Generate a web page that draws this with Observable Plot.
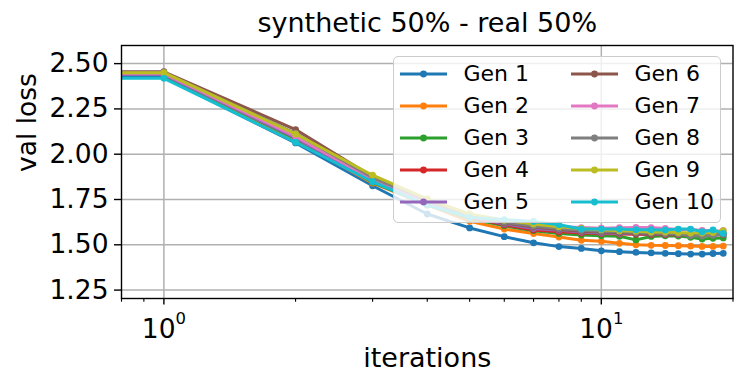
<!DOCTYPE html>
<html><head><meta charset="utf-8">
<script src="https://cdn.jsdelivr.net/npm/d3@7"></script>
<script src="https://cdn.jsdelivr.net/npm/@observablehq/plot@0.6"></script>
<style>
html,body{margin:0;padding:0;background:#fff;}
#wrap{position:relative;width:746px;height:386px;font-family:"DejaVu Sans",sans-serif;}
#legend{position:absolute;left:393px;top:56px;width:328px;height:167px;background:rgba(255,255,255,0.8);border:1.5px solid #cccccc;border-radius:5px;box-sizing:border-box;}
.item{position:absolute;height:32px;display:flex;align-items:center;font-size:22px;color:#000;white-space:nowrap;}
.item svg{margin-right:17px;}
</style></head><body><div id="wrap"></div>
<script>
const iterations = [0,1,2,3,4,5,6,7,8,9,10,11,12,13,14,15,16,17,18,19];
const genNames = ["Gen 1","Gen 2","Gen 3","Gen 4","Gen 5","Gen 6","Gen 7","Gen 8","Gen 9","Gen 10"];
const gen1  = [2.425,2.425,2.062,1.826,1.670,1.593,1.545,1.511,1.490,1.480,1.467,1.462,1.458,1.455,1.453,1.451,1.449,1.449,1.452,1.453];
const gen2  = [2.440,2.440,2.080,1.840,1.720,1.630,1.587,1.562,1.543,1.525,1.519,1.508,1.500,1.497,1.496,1.495,1.493,1.491,1.491,1.493];
const gen3  = [2.440,2.440,2.085,1.845,1.720,1.645,1.605,1.578,1.563,1.554,1.550,1.547,1.527,1.546,1.550,1.548,1.541,1.532,1.536,1.538];
const gen4  = [2.445,2.445,2.093,1.850,1.725,1.650,1.610,1.582,1.572,1.565,1.562,1.560,1.558,1.557,1.556,1.556,1.555,1.556,1.557,1.558];
const gen5  = [2.440,2.440,2.090,1.850,1.730,1.655,1.615,1.590,1.580,1.570,1.565,1.563,1.562,1.560,1.558,1.557,1.556,1.556,1.555,1.556];
const gen6  = [2.455,2.455,2.136,1.875,1.745,1.660,1.620,1.598,1.585,1.575,1.570,1.566,1.562,1.560,1.557,1.556,1.555,1.553,1.556,1.555];
const gen7  = [2.445,2.445,2.100,1.860,1.735,1.665,1.630,1.610,1.600,1.595,1.592,1.594,1.596,1.595,1.590,1.585,1.583,1.580,1.575,1.578];
const gen8  = [2.450,2.450,2.115,1.870,1.745,1.660,1.625,1.603,1.590,1.580,1.575,1.572,1.568,1.565,1.562,1.560,1.550,1.548,1.553,1.560];
const gen9  = [2.450,2.450,2.112,1.884,1.753,1.670,1.635,1.615,1.600,1.590,1.583,1.578,1.575,1.570,1.570,1.568,1.565,1.565,1.568,1.578];
const gen10 = [2.419,2.419,2.066,1.848,1.720,1.651,1.639,1.629,1.611,1.587,1.587,1.587,1.583,1.583,1.582,1.587,1.587,1.572,1.582,1.563];
const colors = ["#1f77b4","#ff7f0e","#2ca02c","#d62728","#9467bd","#8c564b","#e377c2","#7f7f7f","#bcbd22","#17becf"];
const yTicks = [1.25,1.5,1.75,2.0,2.25,2.5];
const xMajorTicks = [1,10];
const xMinorTicks = [0.8,0.9,2,3,4,5,6,7,8,9,20];
const titleText = "synthetic 50% - real 50%";
const xLabel = "iterations";
const yLabel = "val loss";

const series = [gen1,gen2,gen3,gen4,gen5,gen6,gen7,gen8,gen9,gen10];
const rows = [];
series.forEach((vals, g) => vals.forEach((v, i) => rows.push({gen: genNames[g], iteration: iterations[i], loss: v})));

// matplotlib clips non-positive x on a log axis to a far-left position
const xAcc = d => d.iteration <= 0 ? 1e-6 : d.iteration;
const expOf = d => String(Math.round(Math.log10(d)));

const lineMarks = [];
genNames.forEach((name, g) => {
  const data = rows.filter(r => r.gen === name);
  lineMarks.push(Plot.line(data, {x: xAcc, y: "loss", stroke: colors[g], strokeWidth: 3, clip: true}));
  lineMarks.push(Plot.dot(data, {x: xAcc, y: "loss", fill: colors[g], r: 3.4, stroke: "none", clip: true}));
});

const chart = Plot.plot({
  width: 746, height: 386,
  marginLeft: 121, marginRight: 13.5, marginTop: 45, marginBottom: 88,
  style: {fontFamily: "DejaVu Sans, sans-serif", color: "#000", background: "#fff"},
  x: {type: "log", domain: [0.8, 20]},
  y: {domain: [1.2036, 2.6]},
  marks: [
    Plot.gridX(xMajorTicks, {stroke: "#b0b0b0", strokeOpacity: 1, strokeWidth: 1.5}),
    Plot.gridY(yTicks, {stroke: "#b0b0b0", strokeOpacity: 1, strokeWidth: 1.5}),
    ...lineMarks,
    Plot.frame({stroke: "#000", strokeWidth: 1.4}),
    Plot.axisY(yTicks, {anchor: "left", tickSize: 7, tickPadding: 6, tickFormat: d3.format(".2f"), fontSize: 26.5, strokeWidth: 1.4, label: null}),
    Plot.axisX(xMajorTicks, {anchor: "bottom", tickSize: 6.5, tickPadding: 14, tickFormat: d => "10^" + expOf(d), fontSize: 26.5, strokeWidth: 1.4, label: null}),
    Plot.axisX(xMinorTicks, {anchor: "bottom", tickSize: 3.7, tickFormat: () => "", strokeWidth: 1.1, label: null}),
    Plot.text([titleText], {frameAnchor: "top", dy: -14, lineAnchor: "bottom", fontSize: 27, text: d => d}),
    Plot.text([xLabel], {frameAnchor: "bottom", dy: 68, lineAnchor: "bottom", fontSize: 27, text: d => d}),
    Plot.text([yLabel], {frameAnchor: "left", dx: -86, rotate: -90, lineAnchor: "bottom", fontSize: 26.5, text: d => d})
  ]
});
const wrap = document.getElementById("wrap");
wrap.appendChild(chart);

// render "10^k" tick labels as base + raised exponent, like matplotlib mathtext
d3.select(chart).selectAll("text").each(function() {
  const t = this.textContent;
  const m = /^10\^(-?\d+)$/.exec(t);
  if (!m) return;
  const sel = d3.select(this);
  sel.text("");
  sel.append("tspan").text("10");
  sel.append("tspan").attr("dy", "-0.85em").attr("font-size", "0.62em").text(m[1]);
});

// legend (two columns, semi-transparent box like matplotlib)
const legend = document.createElement("div");
legend.id = "legend";
genNames.forEach((name, g) => {
  const col = g < 5 ? 0 : 1, row = g % 5;
  const item = document.createElement("div");
  item.className = "item";
  item.style.left = (col === 0 ? 5.5 : 176.5) + "px";
  item.style.top = (0.5 + 32 * row) + "px";
  item.innerHTML = `<svg width="47" height="12"><line x1="0" y1="6" x2="47" y2="6" stroke="${colors[g]}" stroke-width="3"/><circle cx="23.5" cy="6" r="3.4" fill="${colors[g]}"/></svg><span>${name}</span>`;
  legend.appendChild(item);
});
wrap.appendChild(legend);
</script></body></html>
